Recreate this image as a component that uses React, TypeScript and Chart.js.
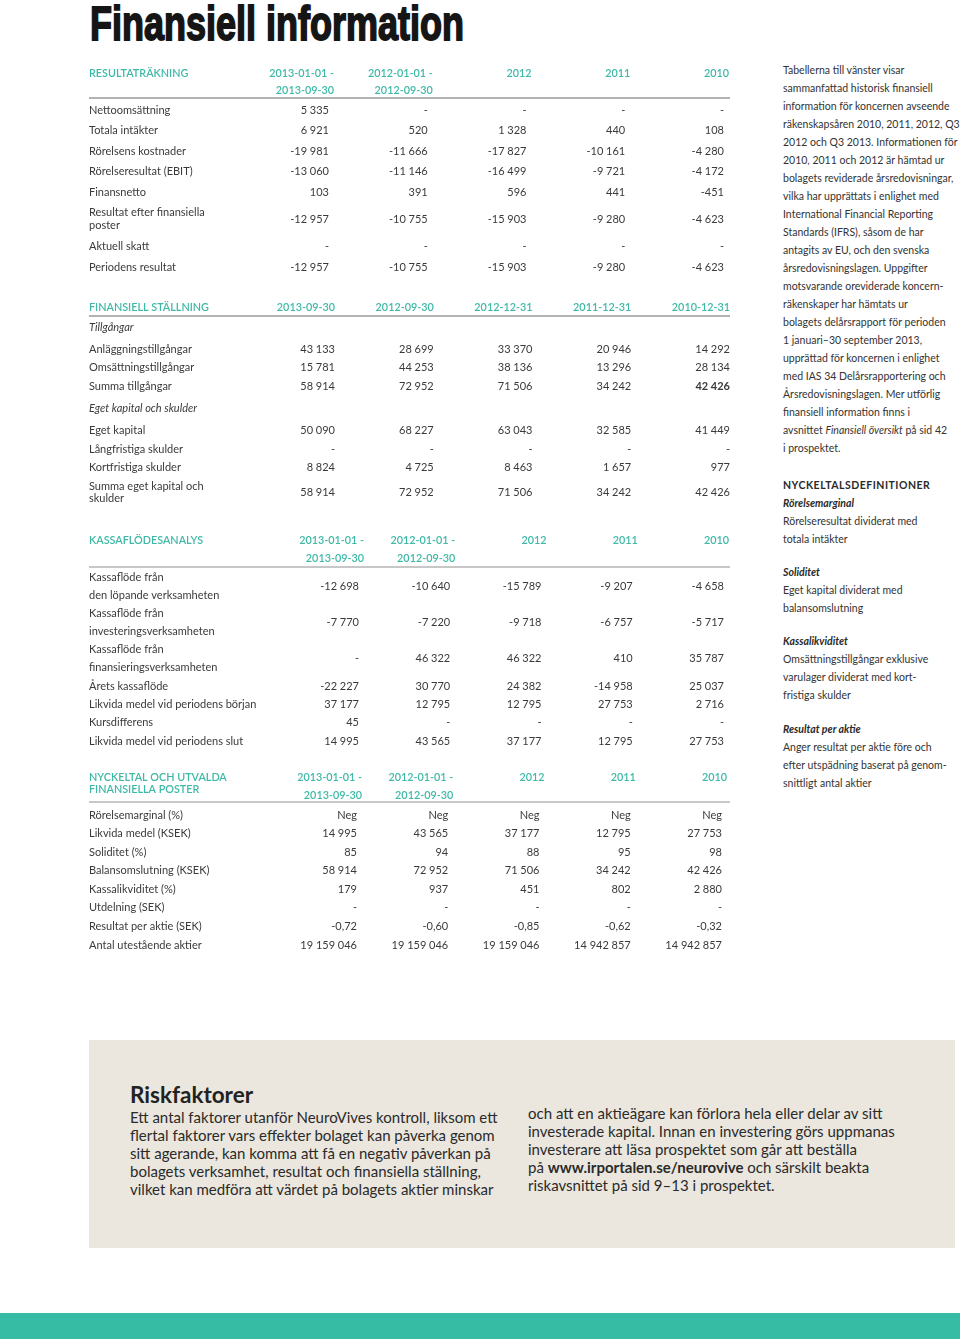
import React, { useEffect, useRef } from "react";
import { Chart, registerables } from "chart.js";

Chart.register(...registerables);

const TEAL = "#3fb9a7";
const INK = "#3a3a3a";
const TABLE_FONT = "Lato";
const TABLE_SIZE = 11;

type Cell = number | string | null;

// ---------- RESULTATRÄKNING ----------
const resultTitle = ["RESULTATRÄKNING"];
const resultHeaders = ["2013-01-01 -\n2013-09-30", "2012-01-01 -\n2012-09-30", "2012", "2011", "2010"];
const resultLabels = [
  "Nettoomsättning",
  "Totala intäkter",
  "Rörelsens kostnader",
  "Rörelseresultat (EBIT)",
  "Finansnetto",
  "Resultat efter finansiella\nposter",
  "Aktuell skatt",
  "Periodens resultat",
];
const resultValues: Cell[][] = [
  [5335, null, null, null, null],
  [6921, 520, 1328, 440, 108],
  [-19981, -11666, -17827, -10161, -4280],
  [-13060, -11146, -16499, -9721, -4172],
  [103, 391, 596, 441, -451],
  [-12957, -10755, -15903, -9280, -4623],
  [null, null, null, null, null],
  [-12957, -10755, -15903, -9280, -4623],
];

// ---------- FINANSIELL STÄLLNING ----------
const balanceTitle = ["FINANSIELL STÄLLNING"];
const balanceHeaders = ["2013-09-30", "2012-09-30", "2012-12-31", "2011-12-31", "2010-12-31"];
const balanceLabels = [
  "Tillgångar",
  "Anläggningstillgångar",
  "Omsättningstillgångar",
  "Summa tillgångar",
  "Eget kapital och skulder",
  "Eget kapital",
  "Långfristiga skulder",
  "Kortfristiga skulder",
  "Summa eget kapital och\nskulder",
];
const balanceValues: (Cell[] | null)[] = [
  null,
  [43133, 28699, 33370, 20946, 14292],
  [15781, 44253, 38136, 13296, 28134],
  [58914, 72952, 71506, 34242, 42426],
  null,
  [50090, 68227, 63043, 32585, 41449],
  [null, null, null, null, null],
  [8824, 4725, 8463, 1657, 977],
  [58914, 72952, 71506, 34242, 42426],
];
const balanceBold = ["3:4"];

// ---------- KASSAFLÖDESANALYS ----------
const cashTitle = ["KASSAFLÖDESANALYS"];
const cashHeaders = ["2013-01-01 -\n2013-09-30", "2012-01-01 -\n2012-09-30", "2012", "2011", "2010"];
const cashLabels = [
  "Kassaflöde från\nden löpande verksamheten",
  "Kassaflöde från\ninvesteringsverksamheten",
  "Kassaflöde från\nfinansieringsverksamheten",
  "Årets kassaflöde",
  "Likvida medel vid periodens början",
  "Kursdifferens",
  "Likvida medel vid periodens slut",
];
const cashValues: Cell[][] = [
  [-12698, -10640, -15789, -9207, -4658],
  [-7770, -7220, -9718, -6757, -5717],
  [null, 46322, 46322, 410, 35787],
  [-22227, 30770, 24382, -14958, 25037],
  [37177, 12795, 12795, 27753, 2716],
  [45, null, null, null, null],
  [14995, 43565, 37177, 12795, 27753],
];

// ---------- NYCKELTAL ----------
const keyTitle = ["NYCKELTAL OCH UTVALDA", "FINANSIELLA POSTER"];
const keyHeaders = ["2013-01-01 -\n2013-09-30", "2012-01-01 -\n2012-09-30", "2012", "2011", "2010"];
const keyLabels = [
  "Rörelsemarginal (%)",
  "Likvida medel (KSEK)",
  "Soliditet (%)",
  "Balansomslutning (KSEK)",
  "Kassalikviditet (%)",
  "Utdelning (SEK)",
  "Resultat per aktie (SEK)",
  "Antal utestående aktier",
];
const keyValues: Cell[][] = [
  ["Neg", "Neg", "Neg", "Neg", "Neg"],
  [14995, 43565, 37177, 12795, 27753],
  [85, 94, 88, 95, 98],
  [58914, 72952, 71506, 34242, 42426],
  [179, 937, 451, 802, 2880],
  [null, null, null, null, null],
  [-0.72, -0.6, -0.85, -0.62, -0.32],
  [19159046, 19159046, 19159046, 14942857, 14942857],
];

// ---------- text blocks ----------
const introLines = [
  "Tabellerna till vänster visar",
  "sammanfattad historisk finansiell",
  "information för koncernen avseende",
  "räkenskapsåren 2010, 2011, 2012, Q3",
  "2012 och Q3 2013. Informationen för",
  "2010, 2011 och 2012 är hämtad ur",
  "bolagets reviderade årsredovisningar,",
  "vilka har upprättats i enlighet med",
  "International Financial Reporting",
  "Standards (IFRS), såsom de har",
  "antagits av EU, och den svenska",
  "årsredovisningslagen. Uppgifter",
  "motsvarande oreviderade koncern-",
  "räkenskaper har hämtats ur",
  "bolagets delårsrapport för perioden",
  "1 januari–30 september 2013,",
  "upprättad för koncernen i enlighet",
  "med IAS 34 Delårsrapportering och",
  "Årsredovisningslagen. Mer utförlig",
  "finansiell information finns i",
  "avsnittet |Finansiell översikt| på sid 42",
  "i prospektet.",
];
const definitions = [
  { term: "Rörelsemarginal", lines: ["Rörelseresultat dividerat med", "totala intäkter"] },
  { term: "Soliditet", lines: ["Eget kapital dividerat med", "balansomslutning"] },
  { term: "Kassalikviditet", lines: ["Omsättningstillgångar exklusive", "varulager dividerat med kort-", "fristiga skulder"] },
  { term: "Resultat per aktie", lines: ["Anger resultat per aktie före och", "efter utspädning baserat på genom-", "snittligt antal aktier"] },
];
const riskLeft = [
  "Ett antal faktorer utanför NeuroVives kontroll, liksom ett",
  "flertal faktorer vars effekter bolaget kan påverka genom",
  "sitt agerande, kan komma att få en negativ påverkan på",
  "bolagets verksamhet, resultat och finansiella ställning,",
  "vilket kan medföra att värdet på bolagets aktier minskar",
];
const riskRight = [
  "och att en aktieägare kan förlora hela eller delar av sitt",
  "investerade kapital. Innan en investering görs uppmanas",
  "investerare att läsa prospektet som går att beställa",
  "på |www.irportalen.se/neurovive| och särskilt beakta",
  "riskavsnittet på sid 9–13 i prospektet.",
];

function fmt(v: Cell): string {
  if (v === null || v === undefined) return "-";
  if (typeof v === "string") return v;
  const neg = v < 0;
  const a = Math.abs(v);
  const s = Number.isInteger(a) ? String(a) : a.toFixed(2);
  const [i, d] = s.split(".");
  const g = i.replace(/\B(?=(\d{3})+(?!\d))/g, " ");
  return (neg ? "-" : "") + g + (d ? "," + d : "");
}

type TableSpec = {
  title: string[];
  headers: string[];
  labels: string[];
  values: (Cell[] | null)[];
  bold?: string[];
  top: number;
  titleY: number[];
  dateY: number[];
  ruleY: number;
  firstY: number;
  unit: number;
  lineGap: number;
  subExtra: number;
  edge1: number;
  edge5: number;
  headShift: number;
  ruleColor: string;
};

const CANVAS_W = 760;
const LABEL_X = 89;
const RULE_END = 730;

function TableChart({ spec }: { spec: TableSpec }) {
  const ref = useRef<HTMLCanvasElement | null>(null);
  const lines = (s: string) => s.split("\n").length;
  const span = (i: number) => 1 + ((lines(spec.labels[i]) - 1) * spec.lineGap) / spec.unit;
  const isSub = (i: number) => spec.values[i] === null;
  const pos: number[] = [];
  spec.labels.forEach((_, i) => {
    if (i === 0) pos.push(0);
    else {
      const step = (span(i - 1) + span(i)) / 2 + (isSub(i - 1) || isSub(i) ? spec.subExtra : 0);
      pos.push(pos[i - 1] + step);
    }
  });
  const total = pos[pos.length - 1];
  const padTop = spec.firstY - spec.top;
  const padBottom = 16;
  const height = Math.round(padTop + total * spec.unit + padBottom);
  const spacing = (spec.edge5 - spec.edge1) / 4;
  const padLeft = spec.edge1 - spacing;
  const padRight = CANVAS_W - spec.edge5;

  useEffect(() => {
    if (!ref.current) return;
    const textPlugin = {
      id: "tableText",
      afterDraw(chart: any) {
        const ctx = chart.ctx as CanvasRenderingContext2D;
        const xs = chart.scales.x;
        const ys = chart.scales.y;
        ctx.save();
        ctx.textBaseline = "middle";
        ctx.fillStyle = TEAL;
        ctx.font = `600 10.8px ${TABLE_FONT}`;
        ctx.textAlign = "left";
        spec.title.forEach((t, j) => ctx.fillText(t, LABEL_X, spec.titleY[j] - spec.top));
        ctx.textAlign = "right";
        spec.headers.forEach((h, c) => {
          const x = xs.getPixelForValue(c + 1) + spec.headShift;
          h.split("\n").forEach((part, j) => ctx.fillText(part, x, spec.dateY[j] - spec.top));
        });
        ctx.strokeStyle = spec.ruleColor;
        ctx.lineWidth = 1.5;
        ctx.beginPath();
        ctx.moveTo(LABEL_X, spec.ruleY - spec.top);
        ctx.lineTo(RULE_END, spec.ruleY - spec.top);
        ctx.stroke();
        spec.labels.forEach((label, r) => {
          const y = ys.getPixelForValue(pos[r]);
          const parts = label.split("\n");
          ctx.fillStyle = INK;
          ctx.textAlign = "left";
          ctx.font = isSub(r) ? `italic ${TABLE_SIZE}px ${TABLE_FONT}` : `${TABLE_SIZE}px ${TABLE_FONT}`;
          parts.forEach((p, j) => {
            const off = (j - (parts.length - 1) / 2) * spec.lineGap;
            ctx.fillText(p, LABEL_X, y + off);
          });
          const row = spec.values[r];
          if (row) {
            ctx.textAlign = "right";
            row.forEach((v, c) => {
              const bold = spec.bold && spec.bold.includes(`${r}:${c}`);
              ctx.font = `${bold ? "bold " : ""}${TABLE_SIZE}px ${TABLE_FONT}`;
              ctx.fillText(fmt(v), xs.getPixelForValue(c + 1), y);
            });
          }
        });
        ctx.restore();
      },
    };
    const chart = new Chart(ref.current, {
      type: "scatter",
      data: { datasets: [] },
      options: {
        animation: false,
        responsive: false,
        maintainAspectRatio: false,
        events: [],
        layout: { padding: { left: padLeft, right: padRight, top: padTop, bottom: padBottom } },
        plugins: { legend: { display: false }, tooltip: { enabled: false } },
        scales: {
          x: { type: "linear", min: 0, max: 5, display: false },
          y: { type: "linear", min: 0, max: total, reverse: true, display: false },
        },
      },
      plugins: [textPlugin],
    });
    return () => chart.destroy();
  }, []);

  return (
    <canvas
      ref={ref}
      width={CANVAS_W}
      height={height}
      style={{ position: "absolute", left: 0, top: spec.top, width: CANVAS_W, height }}
    />
  );
}

const tables: TableSpec[] = [
  {
    title: resultTitle, headers: resultHeaders, labels: resultLabels, values: resultValues,
    top: 60, titleY: [74], dateY: [74, 91], ruleY: 98, firstY: 110, unit: 20.6, lineGap: 13,
    subExtra: 0, edge1: 329, edge5: 724, headShift: 5, ruleColor: "#9a9a9a",
  },
  {
    title: balanceTitle, headers: balanceHeaders, labels: balanceLabels, values: balanceValues, bold: balanceBold,
    top: 295, titleY: [308], dateY: [308], ruleY: 316, firstY: 327, unit: 18.5, lineGap: 12,
    subExtra: 0.2, edge1: 335, edge5: 730, headShift: 0, ruleColor: "#9a9a9a",
  },
  {
    title: cashTitle, headers: cashHeaders, labels: cashLabels, values: cashValues,
    top: 528, titleY: [541], dateY: [541, 559], ruleY: 567, firstY: 586, unit: 18.3, lineGap: 18,
    subExtra: 0, edge1: 359, edge5: 724, headShift: 5, ruleColor: "#b5b5b5",
  },
  {
    title: keyTitle, headers: keyHeaders, labels: keyLabels, values: keyValues,
    top: 765, titleY: [778, 790], dateY: [778, 796], ruleY: 802, firstY: 815, unit: 18.6, lineGap: 18,
    subExtra: 0, edge1: 357, edge5: 722, headShift: 5, ruleColor: "#b5b5b5",
  },
];

function Rich({ text, mode }: { text: string; mode: "i" | "b" }) {
  const parts = text.split("|");
  return (
    <>
      {parts.map((p, i) =>
        i % 2 === 1 ? (mode === "i" ? <i key={i}>{p}</i> : <b key={i}>{p}</b>) : <span key={i}>{p}</span>
      )}
    </>
  );
}

const sideFont: React.CSSProperties = {
  fontFamily: "Lato, sans-serif",
  fontSize: 10.5,
  lineHeight: "18px",
  color: "#333",
  whiteSpace: "nowrap",
};

const defTops = [494, 563, 632, 720];

export default function App() {
  return (
    <div style={{ position: "absolute", left: 0, top: 0, width: 960, height: 1340, background: "#fff", overflow: "hidden" }}>
      <div
        style={{
          position: "absolute", left: 90, top: 0, fontFamily: '"Liberation Sans Narrow", sans-serif', fontWeight: 700,
          fontSize: 48, lineHeight: "48px", color: "#151515", whiteSpace: "nowrap", transform: "scaleX(0.75)",
          transformOrigin: "left top", WebkitTextStroke: "1.8px #151515", letterSpacing: 0,
        }}
      >
        Finansiell information
      </div>

      {tables.map((t, i) => (
        <TableChart key={i} spec={t} />
      ))}

      <div style={{ ...sideFont, position: "absolute", left: 783, top: 61 }}>
        {introLines.map((l, i) => (
          <div key={i}><Rich text={l} mode="i" /></div>
        ))}
      </div>
      <div style={{ ...sideFont, position: "absolute", left: 783, top: 476, fontWeight: 700, letterSpacing: 0.5, color: "#2a2a2a" }}>
        NYCKELTALSDEFINITIONER
      </div>
      {definitions.map((d, i) => (
        <div key={i} style={{ ...sideFont, position: "absolute", left: 783, top: defTops[i] }}>
          <div style={{ fontWeight: 700, fontStyle: "italic", color: "#2a2a2a" }}>{d.term}</div>
          {d.lines.map((l, j) => (
            <div key={j}>{l}</div>
          ))}
        </div>
      ))}

      <div style={{ position: "absolute", left: 89, top: 1040, width: 866, height: 208, background: "#ebe7de" }} />
      <div style={{ position: "absolute", left: 130, top: 1081, fontFamily: "Lato, sans-serif", fontWeight: 700, fontSize: 22.5, lineHeight: "28px", color: "#222", whiteSpace: "nowrap" }}>
        Riskfaktorer
      </div>
      <div style={{ position: "absolute", left: 130, top: 1108, fontFamily: "Lato, sans-serif", fontSize: 15, lineHeight: "18px", color: "#2a2a2a", whiteSpace: "nowrap" }}>
        {riskLeft.map((l, i) => <div key={i}>{l}</div>)}
      </div>
      <div style={{ position: "absolute", left: 528, top: 1104, fontFamily: "Lato, sans-serif", fontSize: 15, lineHeight: "18px", color: "#2a2a2a", whiteSpace: "nowrap" }}>
        {riskRight.map((l, i) => <div key={i}><Rich text={l} mode="b" /></div>)}
      </div>

      <div style={{ position: "absolute", left: 0, top: 1313, width: 960, height: 26, background: "#36bba4" }} />
    </div>
  );
}
